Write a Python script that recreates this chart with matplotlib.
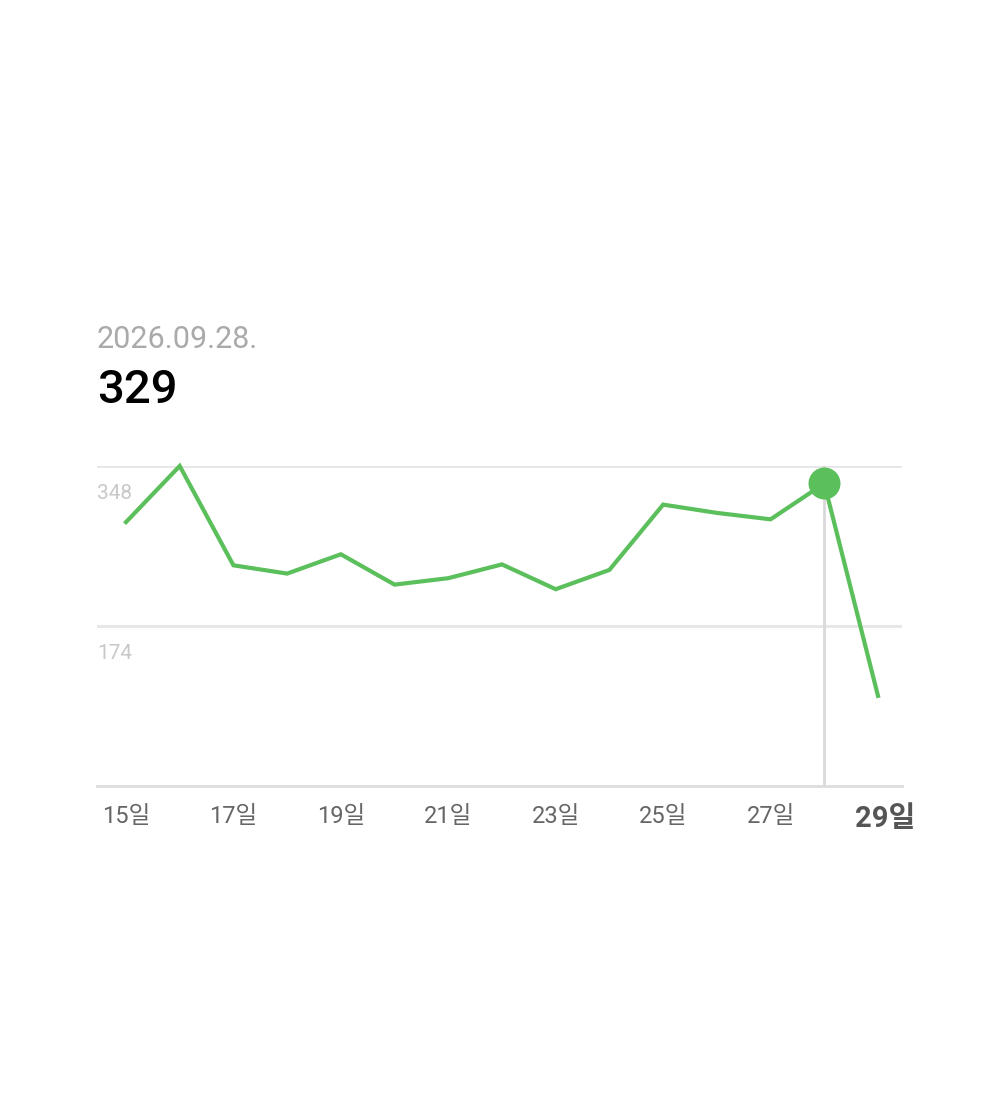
import matplotlib.pyplot as plt
import matplotlib.transforms as mtransforms

# data
days = [15, 16, 17, 18, 19, 20, 21, 22, 23, 24, 25, 26, 27, 28, 29]
values = [287, 348, 240, 231, 252, 219, 226, 241, 214, 235, 306, 297, 290, 329, 98]
ytick_vals = [174, 348]
xtick_days = [15, 17, 19, 21, 23, 25, 27, 29]
sel_day = 28
sel_value = 329
sel_date = "2026.09.28."

green = "#5BBF5B"
fam = ["Roboto", "Noto Sans CJK KR", "DejaVu Sans"]
plt.rcParams["font.family"] = fam

fig = plt.figure(figsize=(10, 11), dpi=100)
W, H = 1000, 1100
left, right, bottom, top = 97, 902, 786, 466
ax = fig.add_axes([left / W, 1 - bottom / H, (right - left) / W, (bottom - top) / H])

x0 = 15 - (126 - 97) / 53.7
x1 = 29 + (902 - 878) / 53.7
ax.set_xlim(x0, x1)
ax.set_ylim(0, 348)

for v in ytick_vals:
    ax.axhline(v, color="#e6e6e6", lw=2, zorder=1)
    ax.text(x0, v - 20, str(v), color="#c8c8c8", fontsize=15, ha="left", va="top")

ax.axvline(sel_day, color="#d9d9d9", lw=2, zorder=1)
ax.plot(days, values, color=green, lw=3, zorder=3, clip_on=False, solid_joinstyle="miter")
ax.plot([sel_day], [sel_value], "o", color=green, ms=22, zorder=4, clip_on=False)

for s in ["top", "left", "right"]:
    ax.spines[s].set_visible(False)
ax.spines["bottom"].set_color("#dddddd")
ax.spines["bottom"].set_linewidth(2)
ax.set_yticks([])
ax.set_xticks(xtick_days)
ax.set_xticklabels([f"{d}일" for d in xtick_days])
ax.tick_params(axis="x", length=0, pad=14, labelsize=17, labelcolor="#666666")
last = ax.get_xticklabels()[-1]
last.set_fontsize(21)
last.set_fontweight("bold")
last.set_color("#555555")
last.set_transform(last.get_transform() + mtransforms.ScaledTranslation(7 / 100, 0, fig.dpi_scale_trans))

fig.text(97 / W, 1 - 340 / H, sel_date, color="#aaaaaa", fontsize=22, ha="left", va="center")
fig.text(97 / W, 1 - 390 / H, str(sel_value), color="#000000", fontsize=34,
         fontweight="medium", ha="left", va="center")

fig.savefig("out.png", dpi=100, facecolor="white")
